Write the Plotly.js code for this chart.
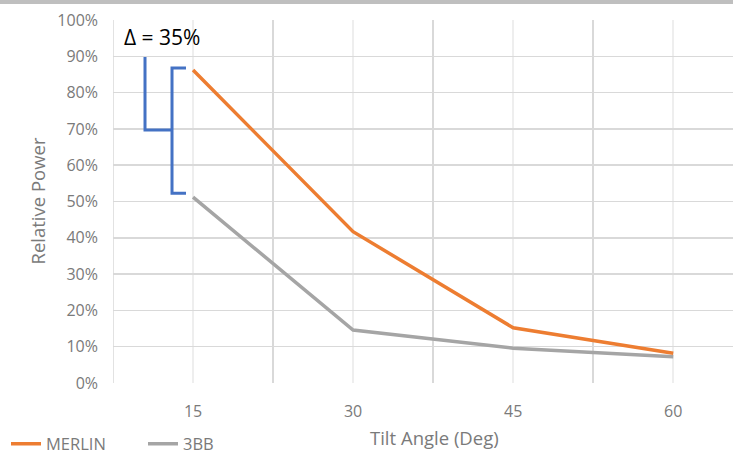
<!DOCTYPE html>
<html>
<head>
<meta charset="utf-8">
<script src="https://cdn.plot.ly/plotly-3.0.1.min.js"></script>
<style>html,body{margin:0;padding:0;background:#fff;}#chart{width:733px;height:454px;}</style>
</head>
<body>
<div id="chart"></div>
<script>
const tiltAngles = [15, 30, 45, 60];
const merlin = [0.862, 0.417, 0.152, 0.082];
const bb3 = [0.512, 0.146, 0.096, 0.072];
const xTickVals = [15, 30, 45, 60];
const xTickText = ["15", "30", "45", "60"];
const yTickVals = [0, 0.1, 0.2, 0.3, 0.4, 0.5, 0.6, 0.7, 0.8, 0.9, 1.0];
const seriesNames = ["MERLIN", "3BB"];
const xTitle = "Tilt Angle (Deg)";
const yTitle = "Relative Power";
const deltaLabel = "\u0394 = 35%";

const FONT = "Open Sans, Lato, sans-serif";
const GREY = "#7a7a7a";
const blue = "#4472C4";

const traces = [
  {x: tiltAngles, y: merlin, name: seriesNames[0], type: "scatter", mode: "lines",
   line: {color: "#ED7D31", width: 3.5}},
  {x: tiltAngles, y: bb3, name: seriesNames[1], type: "scatter", mode: "lines",
   line: {color: "#A5A5A5", width: 3.5}}
];

const layout = {
  width: 733, height: 454,
  margin: {l: 113, r: 0, t: 20, b: 71, autoexpand: false},
  paper_bgcolor: "#fff", plot_bgcolor: "#fff",
  font: {family: FONT, color: GREY, size: 17},
  showlegend: true,
  legend: {orientation: "h", xref: "paper", yref: "paper", x: (6 - 113) / 620, xanchor: "left",
           y: (383 - 444) / 363, yanchor: "middle",
           entrywidth: 92, entrywidthmode: "pixels",
           font: {family: FONT, size: 16.5, color: GREY}, itemwidth: 30, tracegroupgap: 0},
  xaxis: {
    range: [7.5, 65.6], tickvals: xTickVals, ticktext: xTickText,
    showgrid: true, gridcolor: "#eeeeee", gridwidth: 1.5,
    minor: {tick0: 7.5, dtick: 15, showgrid: true, gridcolor: "#d9d9d9", gridwidth: 1.5},
    zeroline: false, showline: false, ticks: "", ticklabelstandoff: 17,
    tickfont: {family: FONT, size: 16, color: GREY}
  },
  yaxis: {
    range: [0, 1.0], tickvals: yTickVals, tickformat: ".0%",
    showgrid: true, gridcolor: "#d9d9d9", gridwidth: 1.5,
    zeroline: false, showline: false, ticks: "", ticklabelstandoff: 14,
    tickfont: {family: FONT, size: 16, color: GREY}
  },
  shapes: [
    {type: "line", xref: "paper", yref: "paper", x0: -0.2, x1: 1, y0: 1 + 18/363, y1: 1 + 18/363,
     line: {color: "#bfbfbf", width: 4}},
    {type: "line", xref: "x", yref: "y", x0: 7.5, x1: 7.5, y0: 0, y1: 1,
     line: {color: "#d9d9d9", width: 1.5}},
    {type: "path", xref: "x", yref: "y", path: "M 10.5,0.898 L 10.5,0.697 L 13.03,0.697",
     line: {color: blue, width: 3}},
    {type: "path", xref: "x", yref: "y", path: "M 14.34,0.868 L 13.03,0.868 L 13.03,0.523 L 14.34,0.523",
     line: {color: blue, width: 3}}
  ],
  annotations: [
    {text: deltaLabel, xref: "x", yref: "y", x: 8.3, y: 0.953, xanchor: "left", yanchor: "middle",
     showarrow: false, font: {family: FONT, size: 21, color: "#000"}},
    {text: xTitle, xref: "paper", yref: "paper", x: (434 - 113) / 620, y: (383 - 437) / 363,
     xanchor: "center", yanchor: "middle", showarrow: false,
     font: {family: FONT, size: 18.5, color: GREY}},
    {text: yTitle, xref: "paper", yref: "paper", x: (37 - 113) / 620, y: 0.5, textangle: -90,
     xanchor: "center", yanchor: "middle", showarrow: false,
     font: {family: FONT, size: 18.5, color: GREY}}
  ]
};

Plotly.newPlot("chart", traces, layout, {displayModeBar: false, staticPlot: true});
</script>
</body>
</html>
